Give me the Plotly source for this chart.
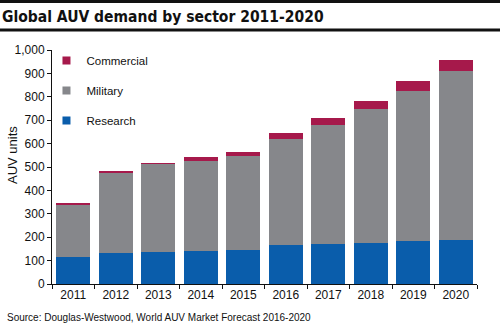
import plotly.graph_objects as go

years = ["2011", "2012", "2013", "2014", "2015", "2016", "2017", "2018", "2019", "2020"]
research = [117, 132, 138, 142, 147, 165, 172, 177, 184, 189]
military = [221, 345, 375, 385, 400, 455, 509, 572, 642, 721]
commercial = [4, 4, 4, 16, 16, 24, 27, 35, 40, 47]
ytick_vals = [0, 100, 200, 300, 400, 500, 600, 700, 800, 900, 1000]
ytick_text = ["0", "100", "200", "300", "400", "500", "600", "700", "800", "900", "1,000"]

C_RES = "#0a5dab"
C_MIL = "#86878b"
C_COM = "#a6194b"
FONT = "Liberation Sans, Arial, sans-serif"

fig = go.Figure()
for name, vals, col in [("Research", research, C_RES), ("Military", military, C_MIL), ("Commercial", commercial, C_COM)]:
    fig.add_trace(go.Bar(x=years, y=vals, name=name, marker=dict(color=col, line=dict(width=0)),
                         showlegend=False))
# legend-only entries with small square swatches
for name, col in [("Commercial", C_COM), ("Military", C_MIL), ("Research", C_RES)]:
    fig.add_trace(go.Scatter(x=[None], y=[None], mode="markers", name=name, legendgroup=name,
                             marker=dict(symbol="square", size=8, color=col)))

fig.update_layout(
    width=500, height=324,
    margin=dict(l=52, r=23, t=50, b=40),
    paper_bgcolor="white", plot_bgcolor="white",
    barmode="stack", bargap=0.2,
    font=dict(family=FONT, size=12, color="#111"),
    title=dict(text="<b>Global AUV demand by sector 2011-2020</b>",
               font=dict(family="DejaVu Sans Condensed, sans-serif", size=15.5, color="#111"),
               x=0.004, xanchor="left", xref="container",
               y=1 - 16.5 / 324, yanchor="middle", yref="container"),
    showlegend=True,
    legend=dict(traceorder="grouped", tracegroupgap=11, x=-0.013, xanchor="left",
                y=1.017, yanchor="top", font=dict(size=11.5, family=FONT, color="#111"),
                bgcolor="rgba(0,0,0,0)", itemwidth=30),
    xaxis=dict(type="category", range=[-0.5, 9.5], showline=True, linecolor="#111", linewidth=1,
               ticks="outside", tickson="boundaries", ticklen=4, tickcolor="#111",
               tickfont=dict(size=12), showgrid=False, zeroline=False, fixedrange=True),
    yaxis=dict(range=[0, 1000], tickvals=ytick_vals, ticktext=ytick_text, showline=True,
               linecolor="#111", linewidth=1, ticks="outside", ticklen=4, tickcolor="#111",
               tickfont=dict(size=12), showgrid=False, zeroline=False, fixedrange=True),
)

fig.add_annotation(text="AUV units", textangle=-90, xref="paper", yref="paper",
                   x=(12 - 52) / 425, y=(284 - 155) / 234, showarrow=False,
                   font=dict(size=13, family=FONT, color="#111"), xanchor="center", yanchor="middle")
fig.add_annotation(text="Source: Douglas-Westwood, World AUV Market Forecast 2016-2020",
                   xref="paper", yref="paper", x=(5 - 52) / 425, y=(284 - 317.5) / 234,
                   showarrow=False, xanchor="left", yanchor="middle",
                   font=dict(size=10, family=FONT, color="#111"))

# title rules
fig.add_shape(type="rect", xref="paper", yref="paper", x0=-52 / 425, x1=448 / 425,
              y0=(284 - 3) / 234, y1=(284 + 1) / 234, fillcolor="#111", line=dict(width=0))
fig.add_shape(type="rect", xref="paper", yref="paper", x0=-52 / 425, x1=448 / 425,
              y0=(284 - 31.5) / 234, y1=(284 - 28.5) / 234, fillcolor="#111", line=dict(width=0))

fig.write_html("out.html")
